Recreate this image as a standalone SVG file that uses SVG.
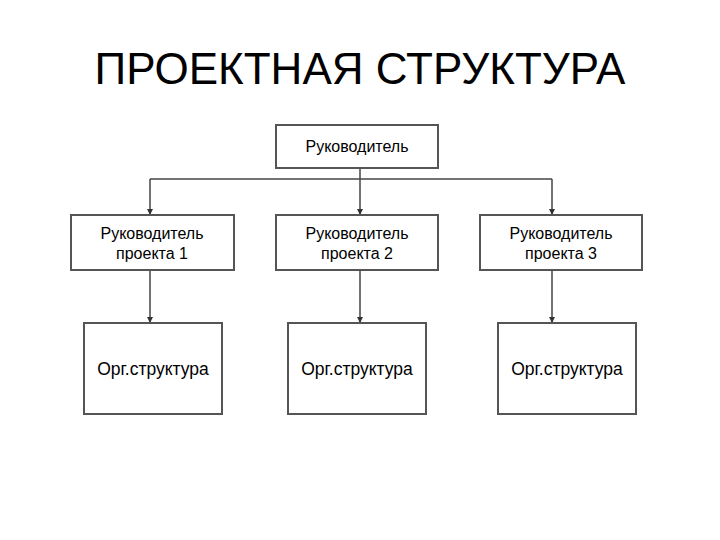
<svg xmlns="http://www.w3.org/2000/svg" width="720" height="540" viewBox="0 0 720 540">
<defs>
<style>
.box{fill:#fff;stroke:#555;stroke-width:2}
.t{font-family:"Liberation Sans",Arial,sans-serif;font-size:16px;fill:#000;text-anchor:middle}
.t2{font-family:"Liberation Sans",Arial,sans-serif;font-size:17.5px;fill:#000;text-anchor:middle}
.c{fill:none;stroke:#444;stroke-width:1.5}
</style>
<marker id="ah" markerWidth="8" markerHeight="8" refX="6" refY="3" orient="auto" markerUnits="userSpaceOnUse">
<path d="M0,0 L6,3 L0,6 Z" fill="#333"/>
</marker>
</defs>
<rect width="720" height="540" fill="#fff"/>
<text x="360" y="84" font-family="Liberation Sans, Arial, sans-serif" font-size="44" text-anchor="middle" fill="#000">ПРОЕКТНАЯ СТРУКТУРА</text>
<g id="connectors">
<path class="c" d="M360,168 V179"/>
<path class="c" d="M150,179 H552"/>
<path class="c" d="M150,179 V215" marker-end="url(#ah)"/>
<path class="c" d="M360,179 V215" marker-end="url(#ah)"/>
<path class="c" d="M552,179 V215" marker-end="url(#ah)"/>
<path class="c" d="M150,270 V323" marker-end="url(#ah)"/>
<path class="c" d="M360,270 V323" marker-end="url(#ah)"/>
<path class="c" d="M552,270 V323" marker-end="url(#ah)"/>
</g>
<g id="head"><rect class="box" x="276" y="125" width="162" height="43"/><text class="t" x="357" y="152">Руководитель</text></g>
<g id="pm1"><rect class="box" x="71" y="215" width="163" height="55"/><text class="t" x="152" y="239">Руководитель</text><text class="t" x="152" y="259">проекта 1</text></g>
<g id="pm2"><rect class="box" x="276" y="215" width="162" height="55"/><text class="t" x="357" y="239">Руководитель</text><text class="t" x="357" y="259">проекта 2</text></g>
<g id="pm3"><rect class="box" x="480" y="215" width="162" height="55"/><text class="t" x="561" y="239">Руководитель</text><text class="t" x="561" y="259">проекта 3</text></g>
<g id="org1"><rect class="box" x="84" y="323" width="138" height="91"/><text class="t2" x="153" y="375">Орг.структура</text></g>
<g id="org2"><rect class="box" x="288" y="323" width="138" height="91"/><text class="t2" x="357" y="375">Орг.структура</text></g>
<g id="org3"><rect class="box" x="498" y="323" width="138" height="91"/><text class="t2" x="567" y="375">Орг.структура</text></g>
</svg>
